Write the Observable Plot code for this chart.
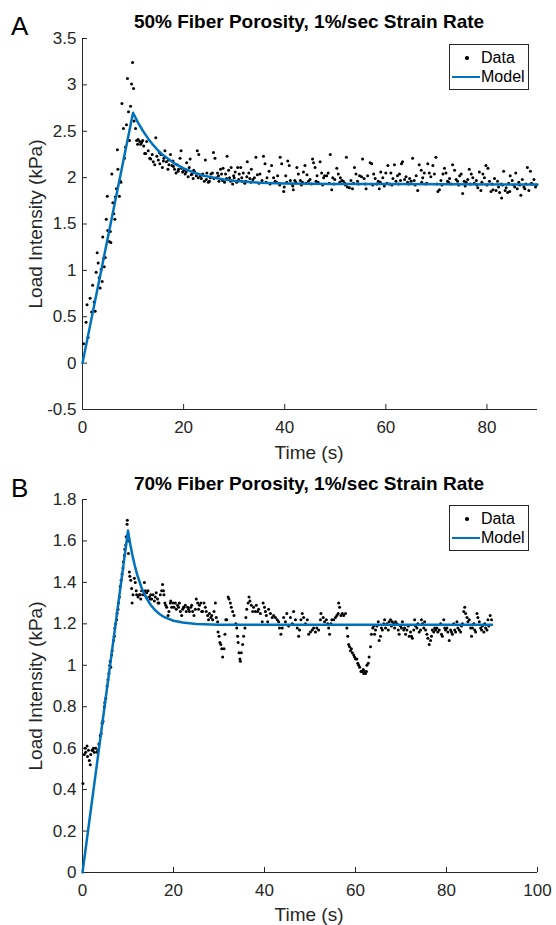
<!DOCTYPE html>
<html><head><meta charset="utf-8">
<script src="https://cdn.jsdelivr.net/npm/d3@7"></script>
<script src="https://cdn.jsdelivr.net/npm/@observablehq/plot@0.6"></script>
<style>
body{margin:0;background:#fff;}
#wrap{position:relative;width:556px;height:925px;font-family:"Liberation Sans",Arial,sans-serif;color:#262626;overflow:hidden;}
.panel{position:absolute;left:0;}
.title{position:absolute;font-weight:bold;font-size:19px;color:#000;transform:translate(-50%,-50%);white-space:nowrap;}
.letter{position:absolute;font-size:26px;color:#000;transform:translate(0,-50%);}
.xlab{position:absolute;font-size:19px;transform:translate(-50%,-50%);white-space:nowrap;}
.ylab{position:absolute;font-size:19px;transform:translate(-50%,-50%) rotate(-90deg);white-space:nowrap;}
.legend{position:absolute;border:1px solid #262626;background:#fff;font-size:16px;color:#000;padding:3px 3px 3px 1px;line-height:19px;}
.row{display:flex;align-items:center;}
.sym{width:30px;height:19px;position:relative;}
.dotsym{position:absolute;left:14px;top:8px;width:3.5px;height:3.5px;border-radius:50%;background:#000;}
.linesym{position:absolute;left:1px;top:8.5px;width:28px;height:2.5px;background:#0072BD;}
</style></head><body><div id="wrap"></div>
<script>
// ---------- Panel A: 50% fiber porosity ----------
const titleA = "50% Fiber Porosity, 1%/sec Strain Rate";
const xTicksA = [0, 20, 40, 60, 80];
const yTicksA = [-0.5, 0, 0.5, 1, 1.5, 2, 2.5, 3, 3.5];
const xDomainA = [0, 90];
const yDomainA = [-0.5, 3.5];
const dataA = [
[0.2,0.21],[0.7,0.44],[0.9,0.63],[1.1,0.28],[1.5,0.70],[1.8,0.55],[2.0,0.84],[2.3,0.66],[2.5,0.56],[2.7,0.98],[2.9,1.19],
[3.1,1.08],[3.3,0.92],[3.5,0.81],[3.7,1.01],[3.9,0.88],[4.0,1.36],[4.2,1.13],[4.3,1.04],[4.5,1.14],[4.7,1.55],[4.9,1.80],
[5.0,1.43],[5.3,1.31],[5.5,1.42],[5.6,1.30],[5.8,2.04],[6.0,1.73],[6.2,1.61],[6.4,1.55],[6.5,1.79],[6.7,1.88],[6.9,2.30],[7.0,2.09],
[7.3,1.80],[7.5,1.96],[7.6,1.95],[7.8,2.80],[8.1,2.53],[8.3,2.21],[8.5,2.33],[8.7,2.57],[8.9,3.07],[9.1,2.71],[9.3,2.40],
[9.5,2.77],[9.7,3.01],[9.9,3.24],[10.1,2.96],[10.2,2.61],[10.5,2.53],[10.7,2.40],[10.9,2.36],[11.0,2.41],[11.3,2.39],
[11.5,2.36],[11.7,2.38],[11.9,2.40],[12.1,2.34],[12.3,2.26],[12.5,2.26],[12.7,2.39],[13.0,2.29],[13.3,2.21],[13.5,2.20],
[13.8,2.25],[14.0,2.17],[14.3,2.14],[14.5,2.43],[14.7,2.23],[15.0,2.19],[15.2,2.27],[15.3,2.15],[15.5,2.25],[15.8,2.11],[16.0,2.18],[16.1,2.21],
[16.3,2.29],[16.6,2.17],[16.9,2.09],[17.0,2.19],[17.1,2.14],[17.4,2.25],[17.7,2.13],[17.9,2.18],[18.0,2.12],[18.2,2.09],[18.5,2.05],[18.7,2.14],
[18.9,2.07],[19.0,2.09],[19.3,2.21],[19.5,2.29],[19.6,2.10],[19.8,2.06],[20.1,2.08],[20.3,2.04],[20.5,2.06],[20.6,2.16],[20.9,2.01],[21.1,2.11],[21.3,2.20],
[21.5,2.03],[21.7,2.04],[21.9,1.99],[22.0,2.08],[22.2,2.06],[22.5,2.02],[22.7,2.29],[22.9,2.00],[23.0,2.25],[23.3,2.02],[23.5,1.99],[23.7,2.03],[23.8,2.04],[24.1,1.96],
[24.3,2.19],[24.5,1.98],[24.6,2.05],[24.9,1.95],[25.1,1.96],[25.3,2.00],[25.4,2.04],[25.7,2.05],[25.9,2.27],[26.0,1.99],[26.2,2.21],[26.5,2.00],[26.7,2.05],
[26.9,2.02],[27.0,1.96],[27.3,2.09],[27.5,2.04],[27.7,1.97],[27.8,2.10],[28.1,1.95],[28.3,2.04],[28.5,1.99],[28.6,2.23],[28.9,2.08],[29.1,2.00],[29.3,1.96],[29.4,2.11],
[29.7,1.93],[29.9,2.02],[30.0,2.00],[30.2,2.06],[30.5,1.95],[30.7,2.11],[30.9,1.98],[31.0,2.04],[31.3,2.11],[31.5,2.00],[31.6,1.96],[31.8,2.05],[32.1,1.94],
[32.3,1.96],[32.5,2.01],[32.6,2.17],[32.9,2.05],[33.1,1.99],[33.3,1.95],[33.4,2.09],[33.7,1.98],[34.0,2.00],[34.3,2.22],[34.6,2.03],[34.9,1.94],[35.1,2.04],[35.5,1.97],[35.8,2.23],
[36.1,2.15],[36.3,1.95],[36.5,2.00],[36.9,2.07],[37.1,1.93],[37.4,2.13],[37.8,2.00],[38.1,1.96],[38.4,1.95],[38.6,2.02],[39.0,1.92],[39.1,2.22],[39.4,2.15],[39.8,1.85],
[39.9,1.90],[40.2,2.02],[40.4,1.95],[40.6,2.18],[40.9,2.13],[41.1,1.97],[41.4,1.93],[41.6,1.91],[41.7,1.87],[42.0,1.97],[42.2,1.95],[42.4,2.11],[42.7,2.04],
[43.1,1.97],[43.3,1.92],[43.5,1.95],[43.7,2.06],[44.0,2.13],[44.2,1.94],[44.4,2.03],[44.7,1.96],[45.0,1.98],[45.3,1.93],[45.5,2.20],[45.7,2.16],[46.0,2.11],
[46.2,1.96],[46.4,2.02],[46.6,1.95],[47.0,2.17],[47.3,2.05],[47.5,1.92],[47.7,2.00],[47.9,2.02],[48.3,2.02],[48.6,2.05],[48.8,1.94],[49.0,2.25],[49.3,1.87],
[49.5,2.00],[49.7,1.93],[49.9,1.98],[50.3,2.10],[50.6,2.04],[50.9,1.95],[51.0,2.00],[51.3,1.97],[51.6,1.96],[51.9,1.94],[52.0,1.92],[52.2,2.22],[52.4,1.90],
[52.8,1.89],[53.1,1.97],[53.4,1.88],[53.6,1.94],[53.8,2.11],[54.1,2.04],[54.4,1.96],[54.6,1.93],[54.8,2.02],[55.2,2.01],[55.4,2.20],[55.7,1.99],[55.9,1.93],
[56.1,1.88],[56.4,2.02],[56.9,2.16],[57.2,2.15],[57.4,1.92],[57.6,2.04],[57.9,1.99],[58.2,1.93],[58.5,1.96],[58.7,1.88],[58.9,1.95],[59.0,2.06],
[59.4,2.00],[59.7,1.91],[60.0,2.05],[60.2,1.94],[60.4,2.13],[60.7,1.93],[61.0,2.05],[61.2,1.92],[61.4,1.99],[61.7,2.14],[62.0,1.96],[62.3,2.02],[62.5,1.93],
[62.7,2.04],[62.9,1.97],[63.1,2.15],[63.3,2.17],[63.7,1.98],[64.0,2.01],[64.3,1.95],[64.5,1.93],[64.7,1.99],[65.0,1.96],[65.3,2.21],
[65.6,1.97],[65.8,1.92],[66.0,2.02],[66.3,1.86],[66.6,2.14],[67.0,2.08],[67.1,1.95],[67.3,2.00],[67.6,2.05],[67.9,1.93],[68.1,1.94],[68.3,2.15],[68.6,2.05],
[68.9,2.01],[69.3,2.13],[69.6,2.04],[69.9,2.22],[70.1,1.93],[70.3,1.85],[70.6,1.87],[70.9,1.97],[71.1,1.92],[71.3,2.04],[71.6,2.10],[71.9,2.05],
[72.2,1.96],[72.4,1.95],[72.6,1.99],[72.9,1.93],[73.2,2.14],[73.6,2.08],[73.9,1.98],[74.2,1.96],[74.4,1.92],[74.6,2.02],[74.9,2.04],[75.2,1.83],
[75.5,1.96],[75.7,1.91],[75.9,1.95],[76.2,1.98],[76.5,2.09],[76.7,1.93],[76.9,2.04],[77.2,2.00],[77.5,1.94],[77.9,1.97],[78.0,1.92],[78.2,1.89],[78.5,2.06],
[78.8,1.86],[79.0,1.95],[79.2,2.04],[79.5,2.00],[79.8,2.13],[80.0,1.92],[80.2,2.10],[80.5,1.96],[80.8,1.85],[81.0,1.93],[81.2,1.87],[81.5,1.99],[81.8,1.86],
[82.1,1.96],[82.3,1.90],[82.5,1.84],[82.8,1.93],[82.9,1.78],[83.1,1.92],[83.3,2.07],[83.6,1.86],[83.8,1.89],[84.1,1.84],[84.3,1.94],[84.5,1.85],[84.6,2.02],
[85.0,1.97],[85.3,1.92],[85.5,1.90],[85.7,2.05],[86.0,1.88],[86.3,1.95],[86.5,1.92],[86.7,1.81],[87.0,1.98],[87.3,1.90],[87.5,1.88],[87.7,1.93],[88.0,2.11],
[88.3,1.86],[88.6,2.07],[88.8,1.94],[89.0,1.93],[89.3,1.98],[89.6,1.90],[89.8,1.92]
];
const modelTimeA = [0, 10, 11, 12, 13, 14, 15, 16, 17, 18, 20, 22, 24, 26, 28, 30, 35, 40, 50, 60, 90];
const modelLoadA = [0, 2.70, 2.59, 2.50, 2.42, 2.35, 2.29, 2.24, 2.20, 2.16, 2.10, 2.055, 2.02, 2.00, 1.98, 1.967, 1.945, 1.937, 1.932, 1.93, 1.925];

// ---------- Panel B: 70% fiber porosity ----------
const titleB = "70% Fiber Porosity, 1%/sec Strain Rate";
const xTicksB = [0, 20, 40, 60, 80, 100];
const yTicksB = [0, 0.2, 0.4, 0.6, 0.8, 1, 1.2, 1.4, 1.6, 1.8];
const xDomainB = [0, 100];
const yDomainB = [0, 1.8];
const dataB = [
[0.1,0.43],[0.4,0.57],[0.6,0.60],[0.7,0.58],[1.0,0.61],[1.1,0.56],[1.3,0.59],[1.5,0.54],[1.7,0.52],[1.8,0.57],
[2.1,0.59],[2.2,0.59],[2.4,0.60],[2.6,0.58],[2.9,0.60],[3.2,0.58],[3.4,0.59],[3.6,0.62],[3.9,0.66],[4.1,0.67],
[4.3,0.72],[4.5,0.73],[4.8,0.80],[4.9,0.82],[5.1,0.84],[5.4,0.90],[5.6,0.93],[5.8,0.96],[6.0,1.00],[6.1,1.02],
[6.2,0.99],[6.4,1.05],[6.5,1.07],[6.8,1.12],[7.0,1.14],[7.1,1.18],[7.3,1.20],[7.5,1.22],[7.6,1.25],[7.8,1.27],
[7.9,1.30],[8.1,1.33],[8.3,1.38],[8.5,1.41],[8.7,1.44],[8.9,1.47],[9.0,1.50],[9.2,1.53],[9.3,1.56],[9.5,1.58],
[9.6,1.62],[9.8,1.68],[9.85,1.70],[10.0,1.60],[10.1,1.54],[10.3,1.45],[10.4,1.43],[10.6,1.41],[10.8,1.37],[10.9,1.30],
[11.1,1.34],[11.4,1.42],[11.6,1.40],[11.8,1.36],[11.9,1.34],[12.2,1.33],[12.5,1.34],[12.7,1.34],[12.8,1.32],[13.0,1.36],
[13.3,1.34],[13.6,1.40],[13.8,1.36],[14.0,1.33],[14.1,1.35],[14.4,1.36],[14.7,1.33],[14.9,1.32],[15.0,1.34],[15.2,1.32],
[15.5,1.34],[15.8,1.31],[16.0,1.33],[16.2,1.35],[16.5,1.32],[16.6,1.30],[16.8,1.30],[17.1,1.34],[17.4,1.36],[17.6,1.39],
[17.8,1.36],[17.9,1.34],[18.1,1.30],[18.3,1.29],[18.5,1.28],[18.8,1.24],[19.0,1.26],[19.3,1.30],[19.4,1.31],[19.6,1.28],
[19.9,1.30],[20.1,1.28],[20.4,1.30],[20.6,1.27],[20.9,1.29],[21.1,1.28],[21.3,1.30],[21.5,1.26],[21.8,1.24],[22.0,1.27],
[22.2,1.28],[22.3,1.28],[22.6,1.29],[22.8,1.26],[23.1,1.28],[23.3,1.27],[23.5,1.26],[23.8,1.28],[24.0,1.29],[24.2,1.26],
[24.5,1.24],[24.8,1.27],[25.0,1.32],[25.3,1.30],[25.5,1.27],[25.7,1.29],[26.0,1.30],[26.2,1.26],[26.4,1.26],[26.7,1.30],
[27.0,1.28],[27.2,1.26],[27.5,1.24],[27.7,1.22],[27.9,1.25],[28.2,1.23],[28.4,1.24],[28.6,1.22],[28.9,1.26],[29.2,1.30],
[29.4,1.23],[29.7,1.21],[29.8,1.16],[30.0,1.14],[30.2,1.11],[30.4,1.10],[30.6,1.08],[30.8,1.04],[31.1,1.08],[31.3,1.15],
[31.5,1.22],[31.7,1.22],[32.0,1.33],[32.2,1.32],[32.5,1.30],[32.7,1.28],[33.0,1.26],[33.3,1.24],[33.7,1.20],[33.9,1.18],
[34.1,1.14],[34.2,1.11],[34.4,1.06],[34.6,1.03],[34.7,1.02],[34.9,1.06],[35.2,1.10],[35.4,1.14],[35.7,1.18],[35.9,1.23],
[36.1,1.27],[36.4,1.30],[36.6,1.33],[36.8,1.31],[37.1,1.29],[37.4,1.26],[37.6,1.28],[38.0,1.26],[38.2,1.29],[38.5,1.26],
[38.7,1.27],[39.1,1.25],[39.5,1.21],[39.7,1.30],[40.0,1.28],[40.2,1.26],[40.4,1.24],[40.7,1.21],[40.9,1.27],[41.3,1.25],
[41.7,1.23],[42.0,1.24],[42.4,1.23],[42.8,1.22],[43.1,1.21],[43.3,1.18],[43.6,1.15],[43.9,1.18],[44.2,1.23],[44.6,1.21],
[44.9,1.25],[45.3,1.19],[45.7,1.23],[46.1,1.20],[46.4,1.26],[46.8,1.22],[47.2,1.18],[47.5,1.14],[47.7,1.17],[48.0,1.22],
[48.3,1.25],[48.6,1.23],[49.0,1.20],[49.4,1.22],[49.7,1.15],[50.1,1.16],[50.5,1.17],[50.8,1.18],[51.2,1.16],[51.5,1.18],
[51.9,1.17],[52.3,1.22],[52.4,1.25],[52.9,1.23],[53.2,1.21],[53.6,1.22],[53.9,1.20],[54.1,1.18],[54.3,1.15],[54.6,1.20],
[54.8,1.22],[55.2,1.22],[55.6,1.23],[55.9,1.24],[56.2,1.25],[56.3,1.30],[56.5,1.28],[56.8,1.24],[57.1,1.25],[57.4,1.24],
[57.8,1.25],[58.1,1.18],[58.3,1.14],[58.5,1.10],[58.7,1.09],[58.9,1.07],[59.1,1.08],[59.3,1.06],[59.6,1.05],[59.8,1.04],
[60.0,1.03],[60.3,1.03],[60.5,1.01],[60.7,1.00],[60.9,0.99],[61.2,0.97],[61.4,0.97],[61.7,0.98],[61.8,0.96],[62.0,0.97],
[62.2,0.96],[62.4,0.97],[62.5,1.00],[62.8,1.01],[63.0,1.04],[63.3,1.09],[63.5,1.15],[63.8,1.18],[64.0,1.19],[64.2,1.15],
[64.4,1.17],[64.7,1.19],[65.0,1.21],[65.2,1.12],[65.5,1.14],[65.7,1.18],[65.9,1.17],[66.2,1.20],[66.4,1.22],[66.6,1.18],
[66.9,1.20],[67.2,1.17],[67.4,1.21],[67.7,1.22],[67.9,1.19],[68.1,1.21],[68.4,1.20],[68.6,1.18],[68.8,1.21],[69.1,1.20],
[69.4,1.17],[69.6,1.15],[69.9,1.19],[70.1,1.18],[70.3,1.21],[70.6,1.17],[70.8,1.18],[71.0,1.15],[71.3,1.17],[71.6,1.19],
[71.8,1.14],[72.1,1.16],[72.3,1.14],[72.5,1.13],[72.8,1.17],[73.0,1.22],[73.2,1.19],[73.5,1.18],[73.7,1.20],[74.0,1.16],
[74.3,1.17],[74.5,1.22],[74.7,1.20],[75.0,1.18],[75.2,1.21],[75.4,1.17],[75.7,1.15],[75.9,1.13],[76.2,1.10],[76.5,1.12],
[76.7,1.14],[76.9,1.17],[77.2,1.16],[77.4,1.18],[77.6,1.17],[77.9,1.18],[78.1,1.16],[78.4,1.17],[78.7,1.20],[78.9,1.15],
[79.1,1.14],[79.4,1.22],[79.6,1.18],[79.8,1.17],[80.1,1.18],[80.3,1.16],[80.6,1.12],[80.9,1.17],[81.1,1.16],[81.3,1.15],
[81.6,1.20],[81.8,1.17],[82.0,1.16],[82.3,1.21],[82.5,1.18],[82.8,1.17],[83.1,1.16],[83.3,1.19],[83.5,1.20],[83.8,1.26],
[84.0,1.28],[84.2,1.25],[84.5,1.23],[84.7,1.21],[85.0,1.22],[85.3,1.18],[85.5,1.14],[85.7,1.18],[86.0,1.20],[86.2,1.17],
[86.4,1.16],[86.7,1.25],[86.9,1.23],[87.2,1.21],[87.5,1.18],[87.7,1.17],[87.9,1.19],[88.2,1.16],[88.4,1.20],[88.6,1.18],
[88.9,1.17],[89.1,1.22],[89.3,1.19],[89.6,1.24],[89.9,1.22]
];
const modelTimeB = [0, 10, 10.5, 11, 11.5, 12, 13, 14, 15, 16, 17, 18, 20, 22, 25, 30, 90];
const modelLoadB = [0, 1.65, 1.584, 1.528, 1.48, 1.439, 1.373, 1.326, 1.291, 1.265, 1.246, 1.232, 1.215, 1.206, 1.199, 1.196, 1.195];

const xLabel = "Time (s)";
const yLabel = "Load Intensity (kPa)";
const legendLabels = ["Data", "Model"];

const wrap = document.getElementById("wrap");
const fmt = d => String(d);

function panel(cfg) {
  const model = cfg.mt.map((t, i) => ({t, v: cfg.mv[i]}));
  const svg = Plot.plot({
    width: 556, height: cfg.h,
    marginLeft: 82, marginRight: 19, marginTop: cfg.mTop, marginBottom: 53,
    style: {fontFamily: "'Liberation Sans', Arial, sans-serif", fontSize: "17px", color: "#262626", background: "transparent", overflow: "visible"},
    x: {domain: cfg.xd, label: null},
    y: {domain: cfg.yd, label: null},
    marks: [
      Plot.axisX({ticks: cfg.xt, tickSize: -5, tickPadding: 16, tickFormat: fmt, label: null, stroke: "#262626", fill: "#262626"}),
      Plot.axisY({ticks: cfg.yt, tickSize: -5, tickPadding: 11, tickFormat: fmt, label: null, stroke: "#262626", fill: "#262626"}),
      Plot.ruleY([cfg.yd[0]], {stroke: "#262626", strokeWidth: 1}),
      Plot.ruleX([cfg.xd[0]], {stroke: "#262626", strokeWidth: 1}),
      Plot.dot(cfg.pts, {x: d => d[0], y: d => d[1], r: 1.5, fill: "#000", stroke: null}),
      Plot.line(model, {x: "t", y: "v", stroke: "#0072BD", strokeWidth: 2.5})
    ]
  });
  svg.classList.add("panel");
  svg.style.top = cfg.top + "px";
  wrap.appendChild(svg);
  const add = (cls, text, x, y) => {
    const d = document.createElement("div");
    d.className = cls; d.textContent = text;
    d.style.left = x + "px"; d.style.top = y + "px";
    wrap.appendChild(d);
  };
  add("title", cfg.title, 309, cfg.top + 22);
  add("letter", cfg.letter, 11, cfg.top + 26);
  add("xlab", xLabel, 309, cfg.top + 453);
  add("ylab", yLabel, 36, cfg.top + cfg.mTop + (cfg.h - cfg.mTop - 53) / 2);
  const lg = document.createElement("div");
  lg.className = "legend";
  lg.style.left = "449px"; lg.style.top = (cfg.top + cfg.lgTop) + "px";
  lg.innerHTML = `<div class="row"><span class="sym"><span class="dotsym"></span></span><span>${legendLabels[0]}</span></div>` +
                 `<div class="row"><span class="sym"><span class="linesym"></span></span><span>${legendLabels[1]}</span></div>`;
  wrap.appendChild(lg);
}

panel({pts: dataA, mt: modelTimeA, mv: modelLoadA, xd: xDomainA, yd: yDomainA, xt: xTicksA, yt: yTicksA,
       top: 0, h: 462, mTop: 38, title: titleA, letter: "A", lgTop: 44});
panel({pts: dataB, mt: modelTimeB, mv: modelLoadB, xd: xDomainB, yd: yDomainB, xt: xTicksB, yt: yTicksB,
       top: 462, h: 463, mTop: 37, title: titleB, letter: "B", lgTop: 43});
</script></body></html>
